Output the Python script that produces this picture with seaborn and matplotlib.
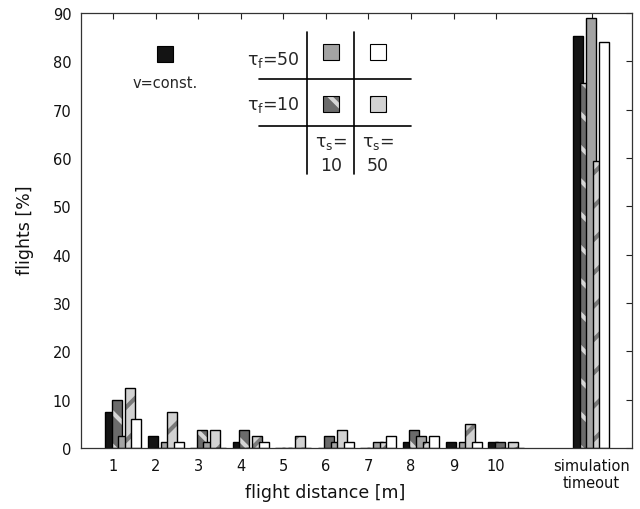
import numpy as np
import pandas as pd
import matplotlib
matplotlib.use("Agg")
import matplotlib.pyplot as plt
import seaborn as sns
from matplotlib.patches import Rectangle
from matplotlib.colors import to_rgba

# ---- data -------------------------------------------------------------
distances = [1, 2, 3, 4, 5, 6, 7, 8, 9, 10, 12]
tick_labels = ["1", "2", "3", "4", "5", "6", "7", "8", "9", "10",
               "simulation\ntimeout"]

v_const = [7.5, 2.5, 0.0, 1.3, 0.0, 0.0, 0.0, 1.3, 1.2, 1.2, 85.3]
tf10_ts10 = [9.9, 0.0, 3.8, 3.7, 0.0, 2.5, 0.0, 3.7, 0.0, 1.2, 75.6]
tf50_ts10 = [2.5, 1.3, 1.2, 0.0, 0.0, 1.3, 1.2, 2.5, 1.2, 0.0, 89.0]
tf10_ts50 = [12.4, 7.4, 3.8, 2.4, 2.5, 3.7, 1.2, 1.3, 5.0, 1.2, 59.4]
tf50_ts50 = [6.1, 1.3, 0.0, 1.3, 0.0, 1.3, 2.5, 2.5, 1.2, 0.0, 84.1]

series_names = ["v=const.", "tf10_ts10", "tf50_ts10", "tf10_ts50", "tf50_ts50"]
series_values = [v_const, tf10_ts10, tf50_ts10, tf10_ts50, tf50_ts50]
face_colors = ["#141414", "#6b6b6b", "#a3a3a3", "#d2d2d2", "#ffffff"]
hatch_styles = [None, "\\", None, "/", None]
hatch_colors = [None, "#d6d6d6", None, "#7a7a7a", None]

df = pd.DataFrame({
    "distance": np.tile(distances, len(series_names)),
    "flights": np.concatenate(series_values),
    "series": np.repeat(series_names, len(distances)),
})

# ---- style ------------------------------------------------------------
sns.set_theme(style="white")
plt.rcParams["font.family"] = ["DejaVu Sans"]
plt.rcParams["mathtext.fontset"] = "custom"
plt.rcParams["mathtext.rm"] = "DejaVu Sans"
plt.rcParams["mathtext.it"] = "DejaVu Sans"
plt.rcParams["mathtext.bf"] = "DejaVu Sans:bold"
plt.rcParams["hatch.linewidth"] = 3.0

W, H = 640, 510
fig = plt.figure(figsize=(W / 100, H / 100), dpi=100)
AX_L, AX_R, AX_T, AX_B = 81, 632, 14, 449
ax = fig.add_axes([AX_L / W, (H - AX_B) / H, (AX_R - AX_L) / W, (AX_B - AX_T) / H])

sns.barplot(data=df, x="distance", y="flights", hue="series",
            hue_order=series_names, palette=face_colors, native_scale=True,
            width=0.765, dodge=True, errorbar=None, saturation=1,
            edgecolor="black", linewidth=1.0, legend=False, ax=ax)

# overlapping bars: widen each bar to the right, keep its left edge
n = len(distances)
for i, p in enumerate(ax.patches):
    s = i // n
    p.set_width(0.235)
    if hatch_styles[s]:
        p.set_hatch(hatch_styles[s])
        p._hatch_color = to_rgba(hatch_colors[s])

ax.set_xlim(0.05, 13.0)
ax.set_ylim(0, 90)
ax.set_yticks(range(0, 91, 10))
ax.set_xticks([d - 0.195 if d <= 10 else d + 0.05 for d in distances])
ax.set_xticklabels(tick_labels)
ax.tick_params(direction="in", length=4, width=0.8, color="#222222",
               top=True, right=True, labelsize=10.5, pad=7, labelcolor="#111111")
for lbl in ax.get_xticklabels():
    lbl.set_linespacing(1.15)
for sp in ax.spines.values():
    sp.set_color("#333333")
    sp.set_linewidth(0.9)

ax.set_xlabel("flight distance [m]", fontsize=12.5, color="#111111")
ax.xaxis.set_label_coords((325 - AX_L) / (AX_R - AX_L), -(484 - AX_B) / (AX_B - AX_T))
ax.set_ylabel("flights [%]", fontsize=12.5, color="#111111")
ax.yaxis.set_label_coords((34 - AX_L) / (AX_R - AX_L), (AX_B - 230) / (AX_B - AX_T))


# ---- key grid drawn inside the axes -----------------------------------
def ax_xy(px, py):
    return (px - AX_L) / (AX_R - AX_L), (AX_B - py) / (AX_B - AX_T)


def square(cx, cy, color, hatch=None, hcolor=None, size=16):
    x0, y0 = ax_xy(cx - size / 2, cy + size / 2)
    w = size / (AX_R - AX_L)
    h = size / (AX_B - AX_T)
    r = Rectangle((x0, y0), w, h, transform=ax.transAxes, facecolor=color,
                  edgecolor="black", linewidth=0.8, clip_on=False, zorder=5)
    if hatch:
        r.set_hatch(hatch)
        r._hatch_color = to_rgba(hcolor)
    ax.add_patch(r)


def line(p0, p1):
    a = ax_xy(*p0)
    b = ax_xy(*p1)
    ax.plot([a[0], b[0]], [a[1], b[1]], transform=ax.transAxes,
            color="black", linewidth=1.2, clip_on=False, zorder=5)


KEY_FS = 12.5
square(165, 55, face_colors[0], size=16)
ax.text(*ax_xy(165, 84), "v=const.", transform=ax.transAxes,
        ha="center", va="center", fontsize=10.5)

line((307, 33), (307, 175))
line((354, 33), (354, 175))
line((259, 80), (411, 80))
line((259, 127), (411, 127))

ax.text(*ax_xy(300, 60), r"$\tau_\mathregular{f}$=50", transform=ax.transAxes,
        ha="right", va="center", fontsize=KEY_FS)
ax.text(*ax_xy(300, 105), r"$\tau_\mathregular{f}$=10", transform=ax.transAxes,
        ha="right", va="center", fontsize=KEY_FS)

square(331, 53, face_colors[2])
square(378, 53, face_colors[4])
square(331, 104.5, face_colors[1], hatch_styles[1], hatch_colors[1])
square(378, 104.5, face_colors[3], hatch_styles[3], hatch_colors[3])

for cx, val in [(331, "10"), (378, "50")]:
    ax.text(*ax_xy(cx, 143), r"$\tau_\mathregular{s}$=", transform=ax.transAxes,
            ha="center", va="center", fontsize=KEY_FS)
    ax.text(*ax_xy(cx, 166), val, transform=ax.transAxes,
            ha="center", va="center", fontsize=KEY_FS)

fig.savefig("out.png", dpi=100)
